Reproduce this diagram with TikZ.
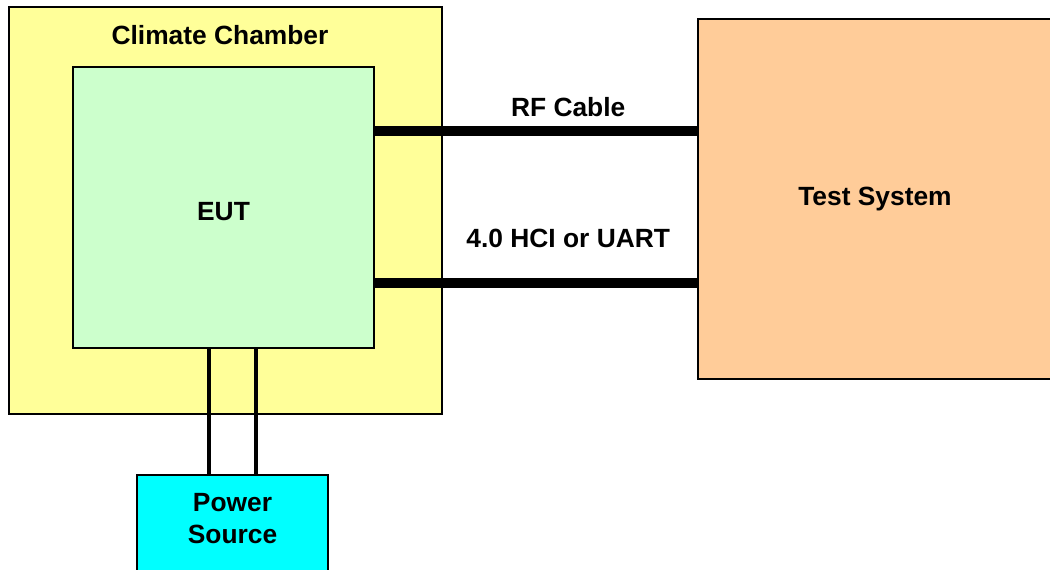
\documentclass[tikz,border=0pt]{standalone}
\usepackage{fontspec}
\setmainfont{Liberation Sans}
\usepackage{xcolor}
\usetikzlibrary{positioning,calc}

\definecolor{chamberyellow}{HTML}{FFFF99}
\definecolor{eutgreen}{HTML}{CCFFCC}
\definecolor{testorange}{HTML}{FFCC99}
\definecolor{powercyan}{HTML}{00FFFF}

\begin{document}
\begin{tikzpicture}[
    box/.style={rectangle, draw, line width=1.1pt, text centered, inner sep=0pt},
    lbl/.style={font=\fontsize{15}{18}\selectfont\bfseries, align=center},
    cable/.style={draw, line width=6.2pt},
    wire/.style={draw, line width=2.3pt}]

    \useasboundingbox (0,0) rectangle (21,11.4);

    \node [box, fill=chamberyellow, minimum width=8.66cm, minimum height=8.14cm] (chamber) at (4.51,7.19) {};
    \node [lbl, below=0.26cm of chamber.north, xshift=-0.11cm] (chambertxt) {Climate Chamber};
    \node [box, fill=eutgreen, minimum width=6.02cm, minimum height=5.62cm] (eut) at (4.47,7.25) {};
    \node [lbl, yshift=-0.08cm] (euttxt) at (eut) {EUT};
    \node [box, lbl, fill=testorange, minimum width=7.08cm, minimum height=7.2cm] (testsys) at (17.5,7.42) {Test System};
    \node [box, fill=powercyan, minimum width=3.82cm, minimum height=2.5cm] (power) at (4.65,0.65) {};
    \node [lbl, below=0.26cm of power.north] (powertxt) {Power\\Source};

    \draw [cable] ([yshift=1.53cm]eut.east) -- ([yshift=1.36cm]testsys.west)
        node[lbl, pos=0.6, yshift=0.48cm] (rftxt) {RF Cable};
    \draw [cable] ([yshift=-1.51cm]eut.east) -- ([yshift=-1.68cm]testsys.west)
        node[lbl, pos=0.6, yshift=0.9cm] (hcitxt) {4.0 HCI or UART};

    \draw [wire] ([xshift=-0.29cm]eut.south) -- ([xshift=-0.29cm]eut.south |- power.north);
    \draw [wire] ([xshift=0.65cm]eut.south) -- ([xshift=0.65cm]eut.south |- power.north);
\end{tikzpicture}
\end{document}
